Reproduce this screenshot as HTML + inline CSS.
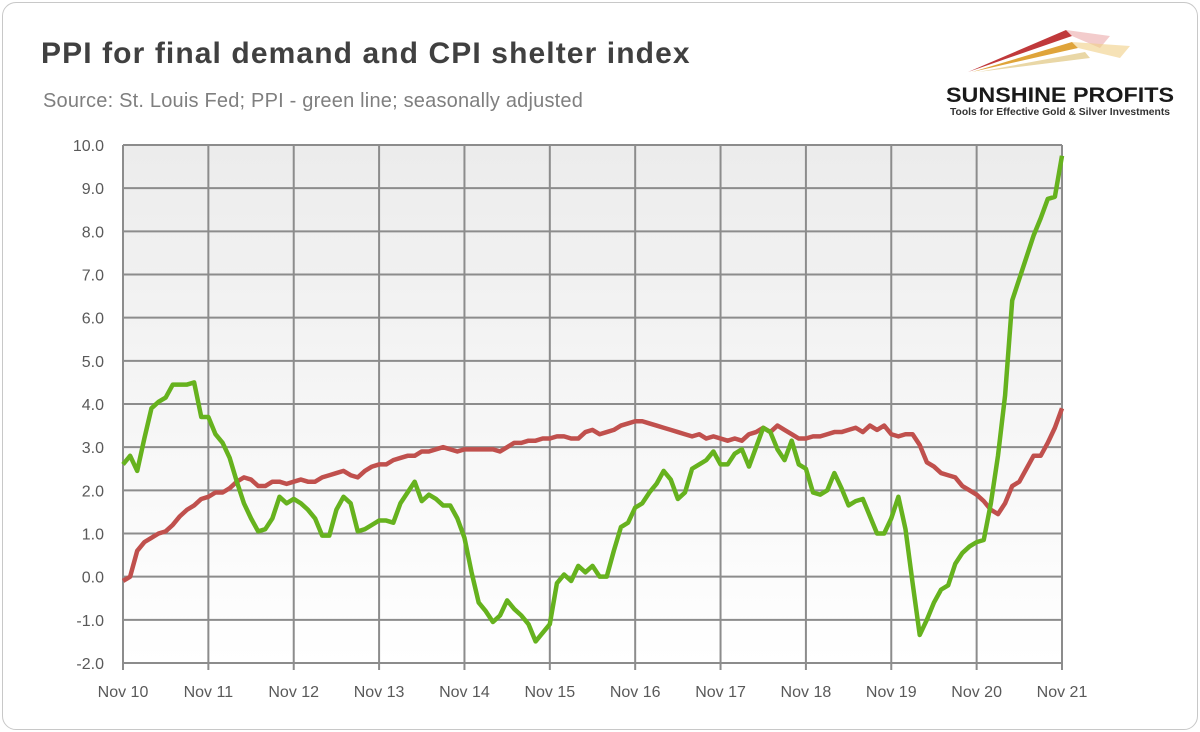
<!DOCTYPE html>
<html><head><meta charset="utf-8">
<style>
body{margin:0;background:#fff;}
#card{position:absolute;left:2px;top:2px;width:1194px;height:726px;border:1px solid #c8c8c8;border-radius:14px;background:#fff;overflow:hidden;}
#title{position:absolute;left:38px;top:34px;font:bold 30px "Liberation Sans",sans-serif;color:#404040;letter-spacing:1.1px;}
#sub{position:absolute;left:40px;top:87px;font:20px "Liberation Sans",sans-serif;color:#7f7f7f;letter-spacing:0.2px;}
svg text{font-family:"Liberation Sans",sans-serif;}
</style></head><body>
<div id="card">
<div id="title">PPI for final demand and CPI shelter index</div>
<div id="sub">Source: St. Louis Fed; PPI - green line; seasonally adjusted</div>
</div>
<svg id="chart" width="1200" height="732" style="position:absolute;left:0;top:0">
<defs><linearGradient id="bg" x1="0" y1="0" x2="0" y2="1"><stop offset="0" stop-color="#ececec"/><stop offset="1" stop-color="#ffffff"/></linearGradient></defs>
<g>
<polygon points="968,72 1066,30 1072,36" fill="#c0393b"/>
<polygon points="972,72 1072,42 1078,48" fill="#dfa43a"/>
<polygon points="978,72 1085,52 1090,58" fill="#e9d7a6"/>
<polygon points="1066,30 1110,36 1100,48 1072,36" fill="#e79a9a" opacity="0.5"/>
<polygon points="1072,42 1130,46 1120,58 1078,48" fill="#f0cf86" opacity="0.6"/>
<text x="946" y="102" font-size="21" font-weight="bold" fill="#1a1a1a" textLength="228" lengthAdjust="spacingAndGlyphs">SUNSHINE PROFITS</text>
<text x="950" y="115" font-size="10" font-weight="bold" fill="#333" textLength="220" lengthAdjust="spacingAndGlyphs">Tools for Effective Gold &amp; Silver Investments</text>
</g>
<g id="plot"></g>
</svg>
<script>
const categories=["Nov 10","Nov 11","Nov 12","Nov 13","Nov 14","Nov 15","Nov 16","Nov 17","Nov 18","Nov 19","Nov 20","Nov 21"];
const yTicks=["-2.0","-1.0","0.0","1.0","2.0","3.0","4.0","5.0","6.0","7.0","8.0","9.0","10.0"];
const ppi=[2.6,2.8,2.45,3.2,3.9,4.05,4.15,4.45,4.45,4.45,4.5,3.7,
3.7,3.3,3.1,2.75,2.2,1.7,1.35,1.05,1.1,1.35,1.85,1.7,
1.8,1.7,1.55,1.35,0.95,0.95,1.55,1.85,1.7,1.05,1.1,1.2,
1.3,1.3,1.25,1.7,1.95,2.2,1.75,1.9,1.8,1.65,1.65,1.35,
0.9,0.1,-0.6,-0.8,-1.05,-0.9,-0.55,-0.75,-0.9,-1.1,-1.5,-1.3,
-1.1,-0.15,0.05,-0.1,0.25,0.1,0.25,0.0,0.0,0.6,1.15,1.25,
1.6,1.7,1.95,2.15,2.45,2.25,1.8,1.95,2.5,2.6,2.7,2.9,
2.6,2.6,2.85,2.95,2.55,3.0,3.45,3.35,2.95,2.7,3.15,2.6,
2.5,1.95,1.9,2.0,2.4,2.05,1.65,1.75,1.8,1.4,1.0,1.0,
1.35,1.85,1.1,-0.15,-1.35,-1.0,-0.6,-0.3,-0.2,0.3,0.55,0.7,
0.8,0.85,1.7,2.8,4.2,6.4,6.9,7.4,7.9,8.3,8.75,8.8,9.75];
const shelter=[-0.1,0.0,0.6,0.8,0.9,1.0,1.05,1.2,1.4,1.55,1.65,1.8,
1.85,1.95,1.95,2.05,2.2,2.3,2.25,2.1,2.1,2.2,2.2,2.15,
2.2,2.25,2.2,2.2,2.3,2.35,2.4,2.45,2.35,2.3,2.45,2.55,
2.6,2.6,2.7,2.75,2.8,2.8,2.9,2.9,2.95,3.0,2.95,2.9,
2.95,2.95,2.95,2.95,2.95,2.9,3.0,3.1,3.1,3.15,3.15,3.2,
3.2,3.25,3.25,3.2,3.2,3.35,3.4,3.3,3.35,3.4,3.5,3.55,
3.6,3.6,3.55,3.5,3.45,3.4,3.35,3.3,3.25,3.3,3.2,3.25,
3.2,3.15,3.2,3.15,3.3,3.35,3.45,3.35,3.5,3.4,3.3,3.2,
3.2,3.25,3.25,3.3,3.35,3.35,3.4,3.45,3.35,3.5,3.4,3.5,
3.3,3.25,3.3,3.3,3.05,2.65,2.55,2.4,2.35,2.3,2.1,2.0,
1.9,1.75,1.55,1.45,1.7,2.1,2.2,2.5,2.8,2.8,3.1,3.45,3.9];

const X0=123,X1=1062,Y0=663,Y1=145,YMIN=-2,YMAX=10;
const nM=(categories.length-1)*12;
const xs=i=>X0+(X1-X0)*i/nM;
const ys=v=>Y0-(v-YMIN)/(YMAX-YMIN)*(Y0-Y1);
const NS="http://www.w3.org/2000/svg";
const g=document.getElementById('plot');
function mk(t,a){const e=document.createElementNS(NS,t);for(const k in a)e.setAttribute(k,a[k]);g.appendChild(e);return e;}
const bg=mk('rect',{x:X0,y:Y1,width:X1-X0,height:Y0-Y1,fill:'url(#bg)'});


yTicks.forEach(t=>{const y=ys(parseFloat(t));
 const l=mk('line',{x1:X0,x2:X1,y1:y,y2:y,stroke:'#8c8c8c','stroke-width':2});
 
 
 const tx=mk('text',{x:X0-19,y:y+6,'text-anchor':'end','font-size':16,fill:'#595959'});tx.textContent=t;
 
 
});
categories.forEach((c,i)=>{const x=xs(i*12);
 const l=mk('line',{x1:x,x2:x,y1:Y1,y2:Y0+7,stroke:'#8c8c8c','stroke-width':2});
 
 
 const tx=mk('text',{x:x,y:697,'text-anchor':'middle','font-size':16,fill:'#595959'});tx.textContent=c;
 
 
});
function line(arr,col,name){
 const p=mk('polyline',{points:arr.map((v,i)=>xs(i)+','+ys(v)).join(' '),fill:'none',stroke:col,'stroke-width':4.5,'stroke-linejoin':'round'});
 
 
}
line(shelter,'#c0504d','cpi-shelter-line');
line(ppi,'#66b21e','ppi-line');
</script>
</body></html>
